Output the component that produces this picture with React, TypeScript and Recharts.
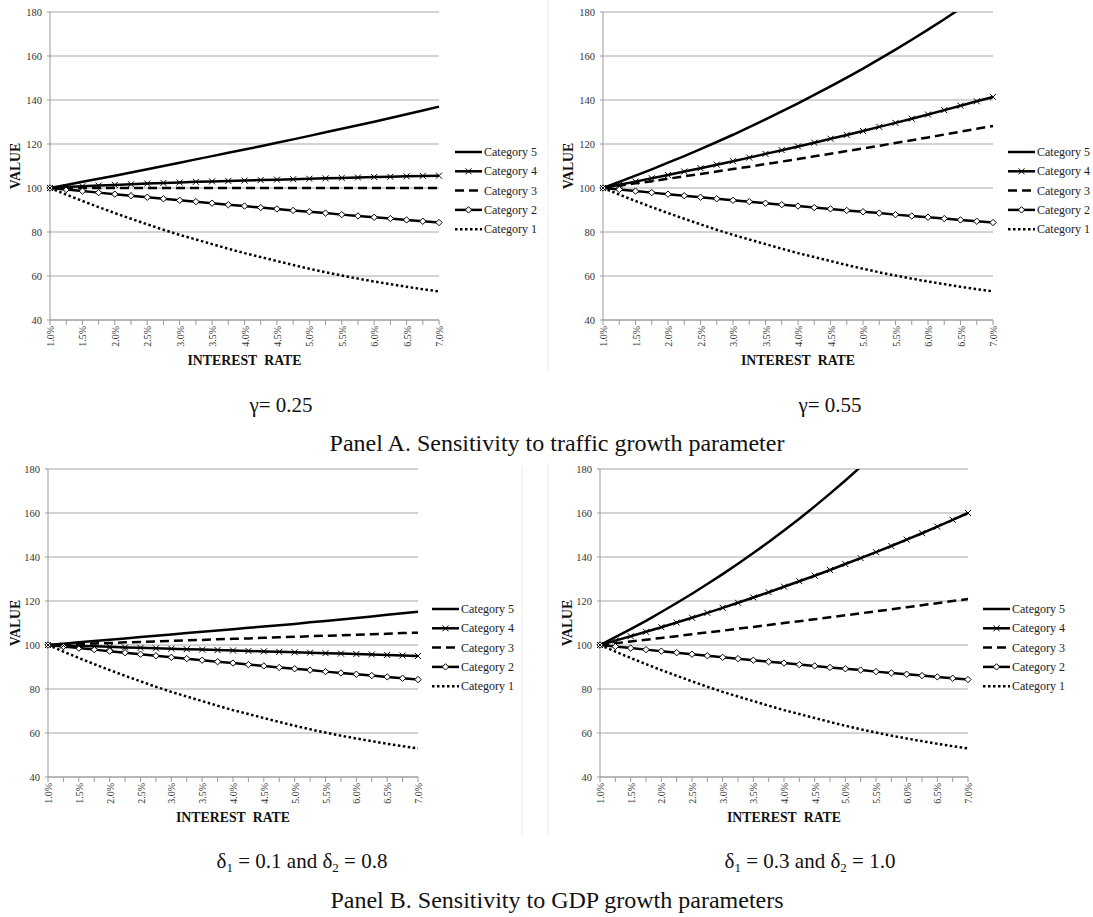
import React from "react"
import { LineChart, Line, XAxis, YAxis, CartesianGrid } from "recharts"

const FONT = '"Liberation Serif", "Times New Roman", serif'

const RATES = [1.0, 1.25, 1.5, 1.75, 2.0, 2.25, 2.5, 2.75, 3.0, 3.25, 3.5, 3.75, 4.0, 4.25, 4.5, 4.75, 5.0, 5.25, 5.5, 5.75, 6.0, 6.25, 6.5, 6.75, 7.0]
const VALUE_TICKS = [40, 60, 80, 100, 120, 140, 160, 180]

// categories 1 and 2 look the same in every panel
const CAT1 = [100, 97.0, 94.1, 91.3, 88.6, 86.0, 83.5, 81.0, 78.7, 76.6, 74.5, 72.4, 70.4, 68.6, 66.8, 65.0, 63.3, 61.7, 60.2, 58.8, 57.5, 56.3, 55.1, 54.0, 53.0]
const CAT2 = [100, 99.3, 98.6, 97.9, 97.2, 96.5, 95.8, 95.1, 94.4, 93.8, 93.1, 92.4, 91.8, 91.1, 90.5, 89.8, 89.2, 88.6, 87.9, 87.3, 86.7, 86.1, 85.5, 84.9, 84.3]

// gamma = 0.25
const A1_CAT3 = [100, 100, 100, 100, 100, 100, 100, 100, 100, 100, 100, 100, 100, 100, 100, 100, 100, 100, 100, 100, 100, 100, 100, 100, 100]
const A1_CAT4 = [100, 100.4, 100.8, 101.1, 101.4, 101.7, 102.0, 102.3, 102.5, 102.8, 103.0, 103.2, 103.4, 103.6, 103.8, 104.0, 104.2, 104.4, 104.6, 104.8, 105.0, 105.1, 105.3, 105.5, 105.6]
const A1_CAT5 = [100, 101.4, 102.8, 104.2, 105.6, 107.0, 108.5, 110.0, 111.5, 113.0, 114.5, 116.0, 117.5, 119.0, 120.6, 122.1, 123.7, 125.3, 126.9, 128.5, 130.1, 131.8, 133.5, 135.2, 137.0]

// gamma = 0.55
const A2_CAT3 = [100, 101.0, 102.1, 103.1, 104.2, 105.3, 106.4, 107.5, 108.6, 109.7, 110.9, 112.0, 113.2, 114.4, 115.6, 116.8, 118.0, 119.2, 120.5, 121.7, 123.0, 124.3, 125.6, 126.9, 128.2]
const A2_CAT4 = [100, 101.5, 102.9, 104.4, 105.9, 107.5, 109.0, 110.6, 112.2, 113.8, 115.5, 117.2, 118.9, 120.6, 122.4, 124.1, 125.9, 127.8, 129.6, 131.5, 133.4, 135.4, 137.4, 139.4, 141.4]
const A2_CAT5 = [100, 102.8, 105.6, 108.5, 111.5, 114.5, 117.7, 120.9, 124.2, 127.7, 131.2, 134.8, 138.5, 142.3, 146.2, 150.2, 154.3, 158.6, 162.9, 167.4, 172.0, 176.7, 181.6, 186.6, 191.7]

// delta1 = 0.1, delta2 = 0.8
const B1_CAT3 = [100, 100.2, 100.5, 100.7, 100.9, 101.2, 101.4, 101.6, 101.9, 102.1, 102.3, 102.6, 102.8, 103.0, 103.3, 103.5, 103.7, 104.0, 104.2, 104.4, 104.7, 104.9, 105.1, 105.4, 105.6]
const B1_CAT4 = [100, 99.8, 99.6, 99.4, 99.2, 98.9, 98.7, 98.5, 98.3, 98.1, 97.9, 97.7, 97.5, 97.3, 97.1, 96.9, 96.7, 96.5, 96.3, 96.1, 95.9, 95.7, 95.5, 95.2, 95.0]
const B1_CAT5 = [100, 100.6, 101.2, 101.8, 102.4, 103.0, 103.6, 104.2, 104.8, 105.4, 106.0, 106.6, 107.2, 107.8, 108.4, 109.0, 109.6, 110.3, 110.9, 111.6, 112.3, 113.0, 113.7, 114.4, 115.1]

// delta1 = 0.3, delta2 = 1.0
const B2_CAT3 = [100, 100.8, 101.6, 102.4, 103.2, 104.0, 104.9, 105.7, 106.5, 107.4, 108.2, 109.1, 110.0, 110.8, 111.7, 112.6, 113.5, 114.4, 115.3, 116.2, 117.2, 118.1, 119.0, 120.0, 120.9]
const B2_CAT4 = [100, 102.0, 104.0, 106.0, 108.1, 110.2, 112.4, 114.6, 116.9, 119.2, 121.6, 124.0, 126.5, 129.0, 131.5, 134.1, 136.8, 139.5, 142.2, 145.0, 147.9, 150.8, 153.8, 156.9, 160.0]
const B2_CAT5 = [100, 103.6, 107.2, 111.0, 115.0, 119.1, 123.3, 127.7, 132.2, 136.9, 141.8, 146.8, 152.0, 157.4, 163.0, 168.8, 174.8, 181.0, 187.4, 194.1, 201.0, 208.1, 215.5, 223.2, 231.1]

const SERIES_NAMES = ["Category 5", "Category 4", "Category 3", "Category 2", "Category 1"]

function XMark({ cx, cy, s = 3 }: { cx: number; cy: number; s?: number }) {
  return <path d={`M${cx - s},${cy - s}L${cx + s},${cy + s}M${cx - s},${cy + s}L${cx + s},${cy - s}`} stroke="#000" strokeWidth={1} fill="none" />
}
function Diamond({ cx, cy, s = 3.2 }: { cx: number; cy: number; s?: number }) {
  return <path d={`M${cx},${cy - s}L${cx + s},${cy}L${cx},${cy + s}L${cx - s},${cy}Z`} stroke="#000" strokeWidth={1} fill="#fff" />
}

const xDot = (p: any) => p.cx == null ? <g key={`x${p.index}`} /> : <g key={`x${p.index}`}><XMark cx={p.cx} cy={p.cy} /></g>
const diamondDot = (p: any) => p.cx == null ? <g key={`d${p.index}`} /> : <g key={`d${p.index}`}><Diamond cx={p.cx} cy={p.cy} /></g>

function RateTick({ x, y, payload }: any) {
  const v = payload.value as number
  if (Math.abs(v * 2 - Math.round(v * 2)) > 1e-6) return <g />
  return (
    <text transform={`translate(${x + 0.5},${y}) rotate(-90)`} textAnchor="end" dominantBaseline="central" fontSize={10} fontFamily={FONT} fill="#333">
      {v.toFixed(1)}%
    </text>
  )
}

type PanelProps = { cat3: number[]; cat4: number[]; cat5: number[]; L: number; T: number; R: number; B: number }

function Panel({ cat3, cat4, cat5, L, T, R, B }: PanelProps) {
  const data = RATES.map((rate, i) => ({ rate, c1: CAT1[i], c2: CAT2[i], c3: cat3[i], c4: cat4[i], c5: cat5[i] }))
  const left = L - 50
  const top = T - 10
  const width = R - L + 56
  const height = B - T + 40
  return (
    <div style={{ position: "absolute", left, top }}>
      <LineChart width={width} height={height} data={data} margin={{ top: 10, right: 6, left: 0, bottom: 0 }}>
        <CartesianGrid vertical={false} stroke="#c4c4c4" strokeWidth={1.3} />
        <XAxis dataKey="rate" type="number" domain={[1, 7]} ticks={RATES} interval={0} height={30}
          axisLine={{ stroke: "#9a9a9a" }} tickLine={{ stroke: "#9a9a9a" }} tickSize={5} tickMargin={1} tick={<RateTick />} />
        <YAxis type="number" domain={[40, 180]} ticks={VALUE_TICKS} allowDataOverflow width={50} interval={0}
          axisLine={{ stroke: "#9a9a9a" }} tickLine={{ stroke: "#9a9a9a" }} tickSize={3} tickMargin={5}
          tick={{ fontSize: 10.5, fill: "#333", fontFamily: FONT }} />
        <Line dataKey="c1" stroke="#000" strokeWidth={2.5} strokeDasharray="2.5 2.5" dot={false} activeDot={false} isAnimationActive={false} />
        <Line dataKey="c2" stroke="#000" strokeWidth={2.5} dot={diamondDot} activeDot={false} isAnimationActive={false} />
        <Line dataKey="c3" stroke="#000" strokeWidth={2.5} strokeDasharray="9 5" dot={false} activeDot={false} isAnimationActive={false} />
        <Line dataKey="c4" stroke="#000" strokeWidth={2.5} dot={xDot} activeDot={false} isAnimationActive={false} />
        <Line dataKey="c5" stroke="#000" strokeWidth={2.5} dot={false} activeDot={false} isAnimationActive={false} />
      </LineChart>
    </div>
  )
}

function LegendBlock({ x, y }: { x: number; y: number }) {
  const step = 19.3
  return (
    <g>
      {SERIES_NAMES.map((name, i) => {
        const yy = y + i * step
        const dash = name === "Category 3" ? "9 5" : name === "Category 1" ? "2.5 2.5" : undefined
        return (
          <g key={name}>
            <line x1={x} x2={x + 27} y1={yy} y2={yy} stroke="#000" strokeWidth={2.5} strokeDasharray={dash} />
            {name === "Category 4" && <XMark cx={x + 13.5} cy={yy} />}
            {name === "Category 2" && <Diamond cx={x + 13.5} cy={yy} />}
            <text x={x + 29} y={yy} dominantBaseline="central" fontSize={12} fontFamily={FONT} fill="#222">{name}</text>
          </g>
        )
      })}
    </g>
  )
}

function AxisTitles({ L, T, R, B, vx }: { L: number; T: number; R: number; B: number; vx: number }) {
  const cy = (T + B) / 2
  return (
    <g fontFamily={FONT} fontWeight="bold" fontSize={13.8} fill="#111">
      <text transform={`translate(${vx},${cy}) rotate(-90)`} textAnchor="middle" dominantBaseline="central">VALUE</text>
      <text x={(L + R) / 2} y={B + 45} textAnchor="middle">INTEREST{"\u00a0\u00a0"}RATE</text>
    </g>
  )
}

const PANELS = [
  { key: "a1", cat3: A1_CAT3, cat4: A1_CAT4, cat5: A1_CAT5, L: 50, T: 12, R: 439, B: 320, lx: 455, ly: 152, vx: 15.5 },
  { key: "a2", cat3: A2_CAT3, cat4: A2_CAT4, cat5: A2_CAT5, L: 603, T: 12, R: 993, B: 320, lx: 1008, ly: 152, vx: 568 },
  { key: "b1", cat3: B1_CAT3, cat4: B1_CAT4, cat5: B1_CAT5, L: 48, T: 469, R: 418, B: 777, lx: 432, ly: 609, vx: 15 },
  { key: "b2", cat3: B2_CAT3, cat4: B2_CAT4, cat5: B2_CAT5, L: 600, T: 469, R: 968, B: 777, lx: 983, ly: 609, vx: 567 },
]

export default function App() {
  return (
    <div style={{ position: "absolute", left: 0, top: 0, width: 1093, height: 917, background: "#fff", fontFamily: FONT }}>
      {PANELS.map(p => <Panel key={p.key} cat3={p.cat3} cat4={p.cat4} cat5={p.cat5} L={p.L} T={p.T} R={p.R} B={p.B} />)}
      <svg width={1093} height={917} style={{ position: "absolute", left: 0, top: 0, pointerEvents: "none" }}>
        <line x1={548} x2={548} y1={0} y2={372} stroke="#ececec" />
        <line x1={522} x2={522} y1={466} y2={836} stroke="#ececec" />
        <line x1={548} x2={548} y1={463} y2={836} stroke="#ececec" />
        {PANELS.map(p => (
          <g key={p.key}>
            <LegendBlock x={p.lx} y={p.ly} />
            <AxisTitles L={p.L} T={p.T} R={p.R} B={p.B} vx={p.vx} />
          </g>
        ))}
        <g fontFamily={FONT} fontSize={21} fill="#111" textAnchor="middle">
          <text x={281} y={412}>γ= 0.25</text>
          <text x={830} y={412}>γ= 0.55</text>
          <text x={557} y={451} fontSize={24}>Panel A. Sensitivity to traffic growth parameter</text>
          <text x={302} y={868}>δ<tspan fontSize={13} dy={4}>1</tspan><tspan dy={-4}> = 0.1 and δ</tspan><tspan fontSize={13} dy={4}>2</tspan><tspan dy={-4}> = 0.8</tspan></text>
          <text x={810} y={868}>δ<tspan fontSize={13} dy={4}>1</tspan><tspan dy={-4}> = 0.3 and δ</tspan><tspan fontSize={13} dy={4}>2</tspan><tspan dy={-4}> = 1.0</tspan></text>
          <text x={557} y={908} fontSize={24}>Panel B. Sensitivity to GDP growth parameters</text>
        </g>
      </svg>
    </div>
  )
}
